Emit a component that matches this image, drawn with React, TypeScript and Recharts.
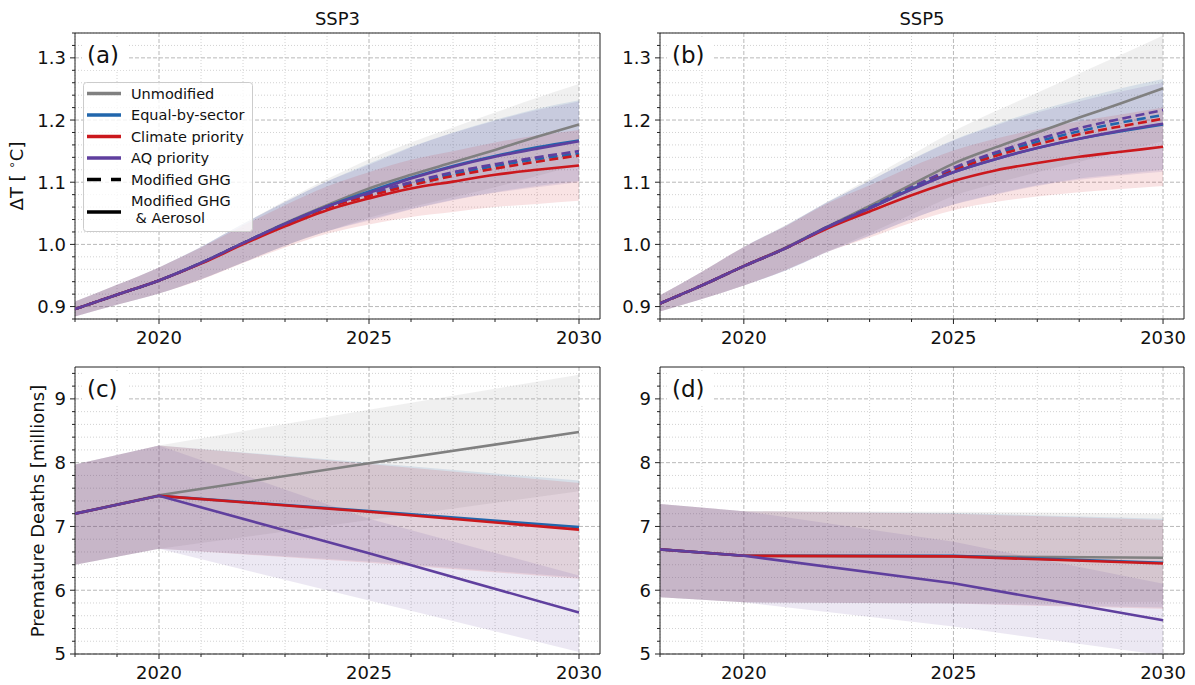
import { ComposedChart, Line, Area, XAxis, YAxis, CartesianGrid, ReferenceArea } from 'recharts';

const FONT = '"DejaVu Sans", Verdana, sans-serif';
const INK = '#222222';

const GREY = '#808080';
const BLUE = '#2166ac';
const RED = '#cb181d';
const PURPLE = '#5f3f9e';

// x axis: a minor tick every year, labels every five
const YEARS = [2018, 2019, 2020, 2021, 2022, 2023, 2024, 2025, 2026, 2027, 2028, 2029, 2030];
const YEAR_LABELS = [2020, 2025, 2030];
const DEATH_YEARS = [2018, 2020, 2025, 2030];

const TEMP_LABELS = [0.9, 1.0, 1.1, 1.2, 1.3];
const DEATH_LABELS = [5, 6, 7, 8, 9];

// ---- warming, SSP3 ----
const ssp3Unmod = [0.896, 0.919, 0.942, 0.970, 1.002, 1.034, 1.063, 1.090, 1.112, 1.132, 1.152, 1.173, 1.193];
const ssp3UnmodLo = [0.884, 0.903, 0.921, 0.944, 0.971, 0.998, 1.021, 1.043, 1.060, 1.076, 1.092, 1.110, 1.128];
const ssp3UnmodHi = [0.908, 0.935, 0.963, 0.996, 1.033, 1.070, 1.105, 1.137, 1.164, 1.188, 1.212, 1.236, 1.258];
const ssp3Equal = [0.896, 0.919, 0.942, 0.970, 1.002, 1.033, 1.061, 1.085, 1.107, 1.126, 1.142, 1.156, 1.167];
const ssp3EqualLo = [0.884, 0.903, 0.921, 0.944, 0.971, 0.998, 1.021, 1.040, 1.057, 1.072, 1.084, 1.094, 1.102];
const ssp3EqualHi = [0.908, 0.935, 0.963, 0.996, 1.033, 1.068, 1.101, 1.130, 1.157, 1.180, 1.200, 1.218, 1.232];
const ssp3Climate = [0.896, 0.919, 0.942, 0.969, 1.000, 1.029, 1.055, 1.074, 1.090, 1.101, 1.112, 1.120, 1.127];
const ssp3ClimateLo = [0.884, 0.903, 0.921, 0.943, 0.970, 0.995, 1.017, 1.032, 1.044, 1.052, 1.060, 1.065, 1.070];
const ssp3ClimateHi = [0.908, 0.935, 0.963, 0.995, 1.030, 1.063, 1.093, 1.116, 1.136, 1.150, 1.164, 1.175, 1.184];
const ssp3Aq = [0.896, 0.919, 0.942, 0.970, 1.002, 1.033, 1.061, 1.083, 1.106, 1.125, 1.141, 1.154, 1.166];
const ssp3AqLo = [0.884, 0.903, 0.921, 0.944, 0.971, 0.998, 1.021, 1.038, 1.056, 1.071, 1.083, 1.092, 1.100];
const ssp3AqHi = [0.908, 0.935, 0.963, 0.996, 1.033, 1.068, 1.101, 1.128, 1.156, 1.179, 1.199, 1.216, 1.230];
const ssp3EqualGhg = [0.896, 0.919, 0.942, 0.970, 1.002, 1.033, 1.060, 1.080, 1.098, 1.113, 1.126, 1.137, 1.146];
const ssp3ClimateGhg = [0.896, 0.919, 0.942, 0.970, 1.002, 1.032, 1.059, 1.078, 1.095, 1.110, 1.122, 1.133, 1.143];
const ssp3AqGhg = [0.896, 0.919, 0.942, 0.970, 1.002, 1.033, 1.061, 1.082, 1.100, 1.116, 1.129, 1.140, 1.150];

// ---- warming, SSP5 ----
const ssp5Unmod = [0.905, 0.934, 0.965, 0.995, 1.029, 1.062, 1.096, 1.130, 1.156, 1.180, 1.204, 1.227, 1.251];
const ssp5UnmodLo = [0.892, 0.912, 0.934, 0.959, 0.989, 1.018, 1.048, 1.078, 1.098, 1.116, 1.133, 1.149, 1.166];
const ssp5UnmodHi = [0.918, 0.956, 0.996, 1.031, 1.069, 1.106, 1.144, 1.182, 1.214, 1.244, 1.275, 1.305, 1.336];
const ssp5Equal = [0.905, 0.934, 0.965, 0.994, 1.028, 1.058, 1.089, 1.116, 1.137, 1.155, 1.170, 1.182, 1.193];
const ssp5EqualLo = [0.892, 0.912, 0.934, 0.958, 0.988, 1.014, 1.041, 1.064, 1.081, 1.095, 1.106, 1.113, 1.120];
const ssp5EqualHi = [0.918, 0.956, 0.996, 1.030, 1.068, 1.102, 1.137, 1.168, 1.193, 1.215, 1.234, 1.251, 1.266];
const ssp5Climate = [0.905, 0.934, 0.965, 0.994, 1.026, 1.053, 1.079, 1.102, 1.119, 1.131, 1.141, 1.149, 1.157];
const ssp5ClimateLo = [0.892, 0.912, 0.934, 0.959, 0.988, 1.011, 1.035, 1.055, 1.068, 1.077, 1.084, 1.089, 1.094];
const ssp5ClimateHi = [0.918, 0.956, 0.996, 1.029, 1.066, 1.095, 1.125, 1.151, 1.170, 1.185, 1.198, 1.209, 1.220];
const ssp5Aq = [0.905, 0.934, 0.965, 0.994, 1.028, 1.058, 1.088, 1.116, 1.137, 1.155, 1.170, 1.183, 1.194];
const ssp5AqLo = [0.892, 0.912, 0.934, 0.958, 0.988, 1.014, 1.041, 1.064, 1.080, 1.094, 1.104, 1.111, 1.117];
const ssp5AqHi = [0.918, 0.956, 0.996, 1.030, 1.068, 1.102, 1.136, 1.167, 1.191, 1.212, 1.230, 1.246, 1.260];
const ssp5EqualGhg = [0.905, 0.934, 0.965, 0.994, 1.028, 1.059, 1.091, 1.121, 1.145, 1.165, 1.182, 1.196, 1.208];
const ssp5ClimateGhg = [0.905, 0.934, 0.965, 0.994, 1.028, 1.058, 1.090, 1.119, 1.142, 1.161, 1.177, 1.190, 1.202];
const ssp5AqGhg = [0.905, 0.934, 0.965, 0.994, 1.028, 1.059, 1.092, 1.123, 1.148, 1.169, 1.187, 1.202, 1.216];

// ---- premature deaths (millions), SSP3 ----
const ssp3DeathsUnmod = [7.20, 7.49, 7.99, 8.48];
const ssp3DeathsUnmodLo = [6.40, 6.65, 7.10, 7.55];
const ssp3DeathsUnmodHi = [7.97, 8.27, 8.83, 9.38];
const ssp3DeathsEqual = [7.20, 7.48, 7.24, 6.99];
const ssp3DeathsEqualLo = [6.40, 6.65, 6.45, 6.20];
const ssp3DeathsEqualHi = [7.97, 8.27, 8.00, 7.72];
const ssp3DeathsClimate = [7.20, 7.48, 7.23, 6.95];
const ssp3DeathsClimateLo = [6.40, 6.65, 6.43, 6.18];
const ssp3DeathsClimateHi = [7.97, 8.27, 7.98, 7.68];
const ssp3DeathsAq = [7.20, 7.48, 6.58, 5.65];
const ssp3DeathsAqLo = [6.40, 6.65, 5.84, 5.03];
const ssp3DeathsAqHi = [7.97, 8.27, 7.12, 6.23];

// ---- premature deaths (millions), SSP5 ----
const ssp5DeathsUnmod = [6.64, 6.54, 6.53, 6.51];
const ssp5DeathsUnmodLo = [5.89, 5.81, 5.80, 5.82];
const ssp5DeathsUnmodHi = [7.35, 7.24, 7.23, 7.20];
const ssp5DeathsEqual = [6.64, 6.54, 6.54, 6.43];
const ssp5DeathsEqualLo = [5.89, 5.81, 5.79, 5.73];
const ssp5DeathsEqualHi = [7.35, 7.24, 7.21, 7.12];
const ssp5DeathsClimate = [6.64, 6.54, 6.53, 6.42];
const ssp5DeathsClimateLo = [5.89, 5.81, 5.79, 5.71];
const ssp5DeathsClimateHi = [7.35, 7.24, 7.20, 7.10];
const ssp5DeathsAq = [6.64, 6.54, 6.11, 5.53];
const ssp5DeathsAqLo = [5.89, 5.81, 5.43, 4.98];
const ssp5DeathsAqHi = [7.35, 7.24, 6.76, 6.10];

type Row = Record<string, number | number[]>;

function buildRows(
  years: number[],
  lines: Record<string, number[]>,
  bands: Record<string, [number[], number[]]>,
): Row[] {
  return years.map((year, i) => {
    const row: Row = { year };
    for (const k of Object.keys(lines)) row[k] = lines[k][i];
    for (const k of Object.keys(bands)) row[k + 'Band'] = [bands[k][0][i], bands[k][1][i]];
    return row;
  });
}

const ssp3TempRows = buildRows(
  YEARS,
  { unmod: ssp3Unmod, equal: ssp3Equal, climate: ssp3Climate, aq: ssp3Aq, equalGhg: ssp3EqualGhg, climateGhg: ssp3ClimateGhg, aqGhg: ssp3AqGhg },
  { unmod: [ssp3UnmodLo, ssp3UnmodHi], equal: [ssp3EqualLo, ssp3EqualHi], climate: [ssp3ClimateLo, ssp3ClimateHi], aq: [ssp3AqLo, ssp3AqHi] },
);
const ssp5TempRows = buildRows(
  YEARS,
  { unmod: ssp5Unmod, equal: ssp5Equal, climate: ssp5Climate, aq: ssp5Aq, equalGhg: ssp5EqualGhg, climateGhg: ssp5ClimateGhg, aqGhg: ssp5AqGhg },
  { unmod: [ssp5UnmodLo, ssp5UnmodHi], equal: [ssp5EqualLo, ssp5EqualHi], climate: [ssp5ClimateLo, ssp5ClimateHi], aq: [ssp5AqLo, ssp5AqHi] },
);
const ssp3DeathRows = buildRows(
  DEATH_YEARS,
  { unmod: ssp3DeathsUnmod, equal: ssp3DeathsEqual, climate: ssp3DeathsClimate, aq: ssp3DeathsAq },
  { unmod: [ssp3DeathsUnmodLo, ssp3DeathsUnmodHi], equal: [ssp3DeathsEqualLo, ssp3DeathsEqualHi], climate: [ssp3DeathsClimateLo, ssp3DeathsClimateHi], aq: [ssp3DeathsAqLo, ssp3DeathsAqHi] },
);
const ssp5DeathRows = buildRows(
  DEATH_YEARS,
  { unmod: ssp5DeathsUnmod, equal: ssp5DeathsEqual, climate: ssp5DeathsClimate, aq: ssp5DeathsAq },
  { unmod: [ssp5DeathsUnmodLo, ssp5DeathsUnmodHi], equal: [ssp5DeathsEqualLo, ssp5DeathsEqualHi], climate: [ssp5DeathsClimateLo, ssp5DeathsClimateHi], aq: [ssp5DeathsAqLo, ssp5DeathsAqHi] },
);

// evenly spaced tick values, rounded so 0.9 stays 0.9
function steps(from: number, to: number, step: number) {
  const out: number[] = [];
  for (let v = from; v <= to + step / 2; v += step) out.push(Math.round(v * 1000) / 1000);
  return out;
}
const near = (list: number[], v: number) => list.some((m) => Math.abs(m - v) < 1e-6);

const TEMP_DOMAIN: [number, number] = [0.88, 1.34];
const DEATH_DOMAIN: [number, number] = [5, 9.5];
const TEMP_TICKS = steps(0.88, 1.34, 0.02);
const DEATH_TICKS = steps(5, 9.4, 0.2);

const BANDS = [
  { key: 'unmod', color: GREY },
  { key: 'equal', color: BLUE },
  { key: 'climate', color: RED },
  { key: 'aq', color: PURPLE },
];

const TEMP_TRACES = [
  { key: 'unmod', color: GREY, dashed: false },
  { key: 'equalGhg', color: BLUE, dashed: true },
  { key: 'climateGhg', color: RED, dashed: true },
  { key: 'aqGhg', color: PURPLE, dashed: true },
  { key: 'equal', color: BLUE, dashed: false },
  { key: 'climate', color: RED, dashed: false },
  { key: 'aq', color: PURPLE, dashed: false },
];
const DEATH_TRACES = TEMP_TRACES.filter((t) => !t.dashed);

function XTick({ x, y, payload }: any) {
  const major = YEAR_LABELS.includes(payload.value);
  return (
    <g>
      <line x1={x} x2={x} y1={y} y2={y + (major ? 5 : 3)} stroke={INK} />
      {major && (
        <text x={x} y={y + 25} textAnchor="middle" fontSize={18} fontFamily={FONT} fill="#111">
          {payload.value}
        </text>
      )}
    </g>
  );
}

function YTick({ x, y, payload, labels, decimals }: any) {
  const major = near(labels, payload.value);
  return (
    <g>
      <line x1={x - (major ? 5 : 3)} x2={x} y1={y} y2={y} stroke={INK} />
      {major && (
        <text x={x - 9} y={y} dy="0.36em" textAnchor="end" fontSize={18} fontFamily={FONT} fill="#111">
          {payload.value.toFixed(decimals)}
        </text>
      )}
    </g>
  );
}

interface PanelProps {
  rows: Row[];
  curve: 'monotone' | 'linear';
  domain: [number, number];
  ticks: number[];
  labels: number[];
  decimals: number;
  traces: { key: string; color: string; dashed: boolean }[];
  left: number;
  top: number;
  width: number;
  height: number;
  marginTop: number;
  marginRight: number;
  yWidth: number;
  xHeight: number;
}

function Panel(p: PanelProps) {
  const minorY = p.ticks.filter((v) => !near(p.labels, v));
  const minorX = YEARS.filter((v) => !YEAR_LABELS.includes(v));
  return (
    <div style={{ position: 'absolute', left: p.left, top: p.top }}>
      <ComposedChart
        width={p.width}
        height={p.height}
        data={p.rows}
        margin={{ top: p.marginTop, right: p.marginRight, bottom: 0, left: 0 }}
      >
        <CartesianGrid horizontalValues={minorY} verticalValues={minorX} stroke="#d2d2d2" strokeDasharray="1 2" />
        <CartesianGrid horizontalValues={p.labels} verticalValues={YEAR_LABELS} stroke="#b9b9b9" strokeDasharray="4 2" />
        <XAxis
          dataKey="year"
          type="number"
          domain={[2018, 2030.5]}
          ticks={YEARS}
          interval={0}
          allowDataOverflow
          height={p.xHeight}
          tickSize={0}
          tickMargin={0}
          axisLine={false}
          tickLine={false}
          tick={(t: any) => <XTick {...t} />}
        />
        <YAxis
          type="number"
          domain={p.domain}
          ticks={p.ticks}
          interval={0}
          allowDataOverflow
          width={p.yWidth}
          tickSize={0}
          tickMargin={0}
          axisLine={false}
          tickLine={false}
          tick={(t: any) => <YTick {...t} labels={p.labels} decimals={p.decimals} />}
        />
        {BANDS.map((b) => (
          <Area
            key={b.key}
            dataKey={b.key + 'Band'}
            type={p.curve}
            stroke="none"
            fill={b.color}
            fillOpacity={0.12}
            isAnimationActive={false}
          />
        ))}
        {p.traces.map((t) => (
          <Line
            key={t.key}
            dataKey={t.key}
            type={p.curve}
            stroke={t.color}
            strokeWidth={2.6}
            strokeDasharray={t.dashed ? '9 4.5' : undefined}
            dot={false}
            activeDot={false}
            isAnimationActive={false}
          />
        ))}
        <ReferenceArea
          x1={2018}
          x2={2030.5}
          y1={p.domain[0]}
          y2={p.domain[1]}
          fill="none"
          stroke={INK}
          strokeWidth={1}
          ifOverflow="visible"
        />
      </ComposedChart>
    </div>
  );
}

const LEGEND = [
  { label: 'Unmodified', color: GREY, dash: undefined as string | undefined },
  { label: 'Equal-by-sector', color: BLUE, dash: undefined },
  { label: 'Climate priority', color: RED, dash: undefined },
  { label: 'AQ priority', color: PURPLE, dash: undefined },
  { label: 'Modified GHG', color: '#000', dash: '14 10' },
];

function PanelTag({ x, y, text }: { x: number; y: number; text: string }) {
  return (
    <g>
      <rect x={x - 5} y={y - 25} width={46} height={32} fill="#fff" />
      <text x={x} y={y} fontSize={23} fill="#111">
        {text}
      </text>
    </g>
  );
}

function Annotations() {
  return (
    <svg
      width={1195}
      height={685}
      style={{ position: 'absolute', left: 0, top: 0, pointerEvents: 'none' }}
      fontFamily={FONT}
    >
      <text x={337.5} y={25} textAnchor="middle" fontSize={18} fill="#111">SSP3</text>
      <text x={922} y={25} textAnchor="middle" fontSize={18} fill="#111">SSP5</text>
      <text transform="translate(23,176) rotate(-90)" textAnchor="middle" fontSize={18} fill="#111">
        ΔT [ <tspan fontSize={12} dy={-7}>∘</tspan>
        <tspan dy={7}>C]</tspan>
      </text>
      <text transform="translate(44,511) rotate(-90)" textAnchor="middle" fontSize={18} fill="#111">
        Premature Deaths [millions]
      </text>
      <PanelTag x={87} y={63} text="(a)" />
      <PanelTag x={672} y={63} text="(b)" />
      <PanelTag x={87} y={397} text="(c)" />
      <PanelTag x={672} y={397} text="(d)" />

      <rect x={83.5} y={82.5} width={169} height={149} rx={3} fill="#fff" fillOpacity={0.8} stroke="#cccccc" />
      {LEGEND.map((item, i) => {
        const cy = 93.5 + i * 21.5;
        return (
          <g key={item.label}>
            <line x1={87} x2={121} y1={cy} y2={cy} stroke={item.color} strokeWidth={3.5} strokeDasharray={item.dash} />
            <text x={131} y={cy} dy="0.36em" fontSize={14.5} fill="#111">{item.label}</text>
          </g>
        );
      })}
      <line x1={87} x2={121} y1={212} y2={212} stroke="#000" strokeWidth={3.5} />
      <text x={131} y={201} dy="0.36em" fontSize={14.5} fill="#111">Modified GHG</text>
      <text x={131} y={218} dy="0.36em" fontSize={14.5} fill="#111">{'\u00a0& Aerosol'}</text>
    </svg>
  );
}

export default function App() {
  return (
    <div style={{ position: 'absolute', left: 0, top: 0, width: 1195, height: 685, background: '#fff', fontFamily: FONT }}>
      <Panel
        rows={ssp3TempRows} curve="monotone" domain={TEMP_DOMAIN} ticks={TEMP_TICKS} labels={TEMP_LABELS}
        decimals={1} traces={TEMP_TRACES}
        left={0} top={0} width={610} height={354} marginTop={33} marginRight={10} yWidth={75} xHeight={35}
      />
      <Panel
        rows={ssp5TempRows} curve="monotone" domain={TEMP_DOMAIN} ticks={TEMP_TICKS} labels={TEMP_LABELS}
        decimals={1} traces={TEMP_TRACES}
        left={600} top={0} width={595} height={354} marginTop={33} marginRight={11} yWidth={60} xHeight={35}
      />
      <Panel
        rows={ssp3DeathRows} curve="linear" domain={DEATH_DOMAIN} ticks={DEATH_TICKS} labels={DEATH_LABELS}
        decimals={0} traces={DEATH_TRACES}
        left={0} top={354} width={610} height={331} marginTop={13} marginRight={10} yWidth={75} xHeight={31}
      />
      <Panel
        rows={ssp5DeathRows} curve="linear" domain={DEATH_DOMAIN} ticks={DEATH_TICKS} labels={DEATH_LABELS}
        decimals={0} traces={DEATH_TRACES}
        left={600} top={354} width={595} height={331} marginTop={13} marginRight={11} yWidth={60} xHeight={31}
      />
      <Annotations />
    </div>
  );
}
